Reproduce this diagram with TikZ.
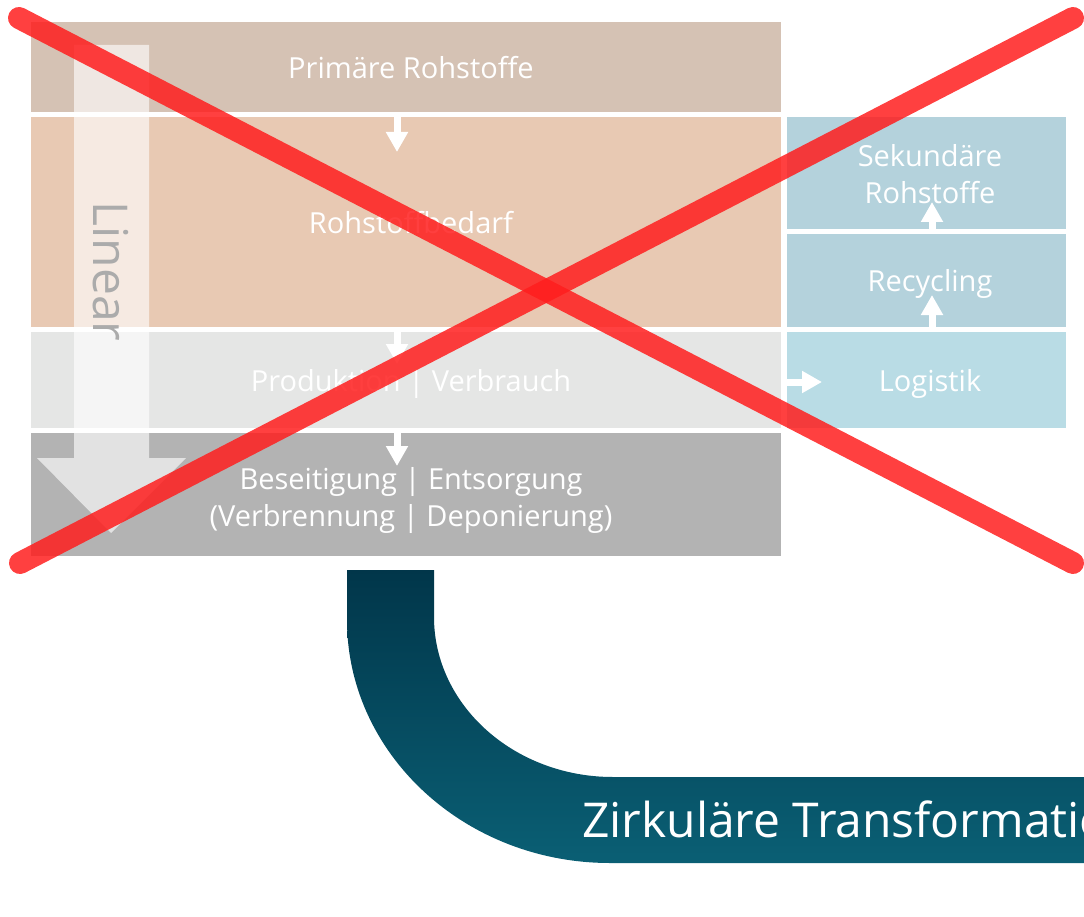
\documentclass[tikz,border=0pt]{standalone}
\usepackage{fontspec}
\setmainfont{Open Sans}
\usetikzlibrary{arrows.meta}
\definecolor{primcol}{HTML}{D5C2B4}
\definecolor{bedarfcol}{HTML}{E8C9B3}
\definecolor{prodcol}{HTML}{E5E6E5}
\definecolor{beseitcol}{HTML}{B3B3B3}
\definecolor{sekcol}{HTML}{B4D2DC}
\definecolor{logiscol}{HTML}{B9DCE5}
\definecolor{tealtop}{HTML}{01364A}
\definecolor{tealbot}{HTML}{0A5F74}
\definecolor{lineargray}{HTML}{ABABAB}
\definecolor{crossred}{HTML}{FF1E1E}
\tikzset{
  BoxStyle/.style = { rectangle, inner sep = 0pt, outer sep = 0pt },
  TextStyle/.style = { text = white, align = center, yshift = -1pt,
                       xshift = #1, font = \fontsize{29}{37}\selectfont },
  TextStyle/.default = 5pt,
  OneLine/.style = { text height = 21pt, text depth = 0pt },
  ArrowStyle/.style = { white, line width = 7pt,
                        -{Triangle[width=21pt,length=20pt]} },
  CrossStyle/.style = { crossred, line width = 22pt, line cap = round,
                        opacity = .85 } }

\begin{document}
\begin{tikzpicture}[x=1pt,y=-1pt]
  \useasboundingbox (0,0) rectangle (1084,917);
  \clip (0,0) rectangle (1084,917);
  % linear chain
  \node[BoxStyle, fill=primcol, minimum width=750pt, minimum height=90pt,
    label={[TextStyle, OneLine]center:Primäre Rohstoffe}] (prim) at (406,67) {};
  \node[BoxStyle, fill=bedarfcol, minimum width=750pt, minimum height=210pt,
    label={[TextStyle, OneLine]center:Rohstoffbedarf}] (bedarf) at (406,222) {};
  \node[BoxStyle, fill=prodcol, minimum width=750pt, minimum height=96pt,
    label={[TextStyle, OneLine]center:Produktion | Verbrauch}] (prod) at (406,380) {};
  \node[BoxStyle, fill=beseitcol, minimum width=750pt, minimum height=123pt,
    label={[TextStyle, yshift=-5pt]center:Beseitigung | Entsorgung\\(Verbrennung | Deponierung)}]
    (beseit) at (406,494.5) {};
  % recycling column
  \node[BoxStyle, fill=sekcol, minimum width=279pt, minimum height=112pt,
    label={[TextStyle=3.5pt]center:Sekundäre\\Rohstoffe}] (sek) at (926.5,173) {};
  \node[BoxStyle, fill=sekcol, minimum width=279pt, minimum height=93pt,
    label={[TextStyle=3.5pt, OneLine]center:Recycling}] (recyc) at (926.5,280.5) {};
  \node[BoxStyle, fill=logiscol, minimum width=279pt, minimum height=96pt,
    label={[TextStyle=3.5pt, OneLine]center:Logistik}] (logis) at (926.5,380) {};

  \draw[ArrowStyle] ([xshift=-9pt]bedarf.north) -- ++(0,35);
  \draw[ArrowStyle] ([xshift=-9pt]prod.north) -- ++(0,32);
  \draw[ArrowStyle] ([xshift=-9pt]beseit.north) -- ++(0,33);
  \draw[ArrowStyle] ([xshift=5.5pt]sek.south) -- ++(0,-27);
  \draw[ArrowStyle] ([xshift=5.5pt]recyc.south) -- ++(0,-32);
  \draw[ArrowStyle] ([yshift=-2pt]logis.west) -- ++(35,0);

  \fill[white, opacity=.62] (74,45) -- (149,45) -- (149,458) -- (186,458)
    -- (111,533) -- (37,458) -- (74,458) -- cycle;
  \node[rotate=-90, inner sep=0pt, text=lineargray,
    font=\fontsize{48}{58}\selectfont] (linear) at (110.5,271.5) {Linear};

  % transformation band
  \shade[top color=tealtop, bottom color=tealbot]
    (347,570) -- (347,620) .. controls (347,754) and (465,863) .. (610,863)
    -- (1090,863) -- (1090,777) -- (613,777)
    .. controls (514,777) and (434,705) .. (434,617) -- (434,570) -- cycle;
  \node[anchor=base west, inner sep=0pt, text=white,
    font=\fontsize{48}{58}\selectfont] (zirk) at (582,837) {Zirkuläre Transformation};

  \draw[CrossStyle] (19,18) -- (1073,563);
  \draw[CrossStyle] (20,563) -- (1073,18);
\end{tikzpicture}
\end{document}
